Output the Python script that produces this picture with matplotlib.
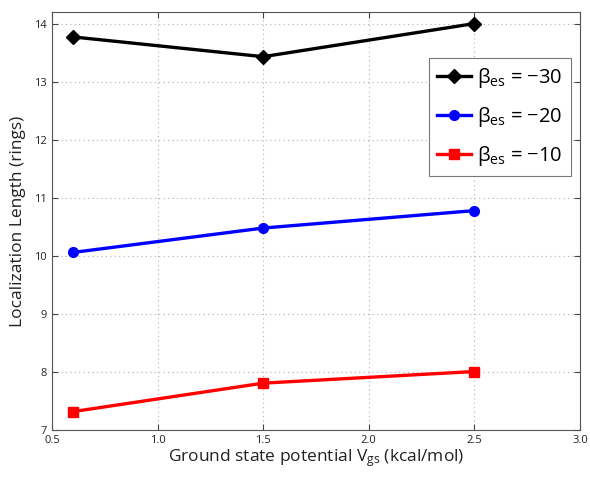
import matplotlib
matplotlib.use("Agg")
import matplotlib.pyplot as plt

plt.rcParams['font.family'] = ['Open Sans', 'DejaVu Sans']
plt.rcParams['mathtext.fontset'] = 'custom'
plt.rcParams['mathtext.rm'] = 'Open Sans'
plt.rcParams['mathtext.it'] = 'Open Sans'

potential = [0.6, 1.5, 2.5]
loc_beta30 = [13.77, 13.43, 14.00]
loc_beta20 = [10.06, 10.48, 10.78]
loc_beta10 = [7.32, 7.81, 8.01]
labels = [r'β$_{\mathrm{es}}$ = −30', r'β$_{\mathrm{es}}$ = −20', r'β$_{\mathrm{es}}$ = −10']
xticks = [0.5, 1.0, 1.5, 2.0, 2.5, 3.0]
yticks = [7, 8, 9, 10, 11, 12, 13, 14]

fig = plt.figure(figsize=(5.9, 4.78), dpi=100)
ax = fig.add_axes([0.088, 0.100, 0.895, 0.875])

ax.plot(potential, loc_beta30, color='black', lw=2.4, marker='D', ms=7, label=labels[0])
ax.plot(potential, loc_beta20, color='blue', lw=2.4, marker='o', ms=7, label=labels[1])
ax.plot(potential, loc_beta10, color='red', lw=2.4, marker='s', ms=6.5, label=labels[2])

ax.set_xlim(0.5, 3.0)
ax.set_ylim(7, 14.2)
ax.set_xticks(xticks)
ax.set_xticklabels([f'{v:.1f}' for v in xticks])
ax.set_yticks(yticks)
ax.tick_params(direction='in', labelsize=8, color='#444444', length=4,
               top=True, right=True, labelcolor='#222222')
ax.grid(True, linestyle=(0, (1, 3)), color='#b0b0b0', linewidth=0.8)
for s in ax.spines.values():
    s.set_color('#555555')
    s.set_linewidth(0.8)

ax.set_xlabel(r'Ground state potential V$_{\mathrm{gs}}$ (kcal/mol)', fontsize=12.5, labelpad=1, color='#222222')
ax.set_ylabel('Localization Length (rings)', fontsize=12.5, labelpad=6, color='#222222')

leg = ax.legend(loc='upper right', bbox_to_anchor=(0.983, 0.89), fontsize=14.5,
                fancybox=False, edgecolor='#777777', framealpha=1,
                handlelength=1.7, handletextpad=0.3, borderpad=0.4, labelspacing=0.75,
                borderaxespad=0)
leg.get_frame().set_linewidth(0.8)

fig.savefig('out.png', dpi=100)
